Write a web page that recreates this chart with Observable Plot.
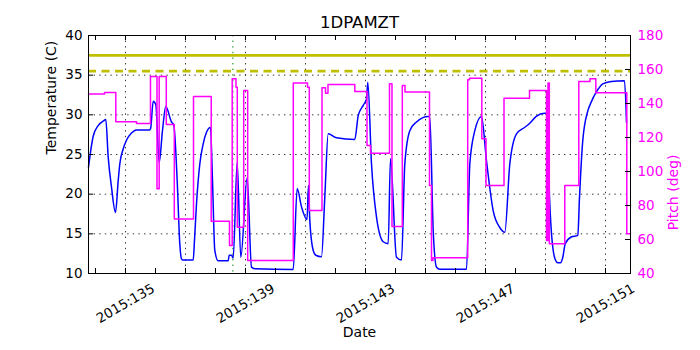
<!DOCTYPE html>
<html><head><meta charset="utf-8">
<script src="https://cdn.jsdelivr.net/npm/d3@7"></script>
<script src="https://cdn.jsdelivr.net/npm/@observablehq/plot@0.6"></script>
<style>body{margin:0;background:#fff;} #chart{width:700px;height:350px;}</style>
</head><body><div id="chart"></div>
<script>
// ---- data (day of year 2015) ----
const tempDays = [133.767,133.923,134.09,134.257,134.343,134.423,134.533,134.667,134.757,134.81,134.923,135.033,135.2,135.367,135.81,135.84,135.923,136.01,136.123,136.233,136.343,136.533,136.61,136.723,136.81,136.867,136.923,137.257,137.3,137.367,137.477,137.59,137.7,137.833,137.9,137.977,138.09,138.423,138.457,138.533,138.59,138.723,138.843,139.057,139.2,139.31,140.59,140.723,140.867,141.05,141.1,141.143,141.257,141.343,141.533,141.643,141.757,142.033,142.643,142.757,142.923,143.033,143.077,143.2,143.367,143.59,143.757,143.833,144.033,144.2,144.31,144.477,144.7,145.09,145.143,145.257,145.367,145.477,146.367,146.477,146.643,146.867,147.033,147.257,147.477,147.643,147.81,148.033,148.3,148.467,148.69,148.967,149.057,149.133,149.3,149.41,149.5,149.577,149.657,149.857,150.077,150.133,150.243,150.41,150.523,150.69,150.91,151.19,151.633,151.7];
const tempValues = [23.4,27.3,28.65,29.2,29.4,24.7,20.9,17.7,21.7,23.8,25.7,26.8,27.7,28.1,28.1,28.3,31.7,31.3,24.0,28.0,31.05,29.1,28.7,21.7,13.75,11.85,11.7,11.7,14.2,18.8,23.8,26.35,27.8,28.4,21.7,12.9,11.6,11.6,12.3,12.3,11.95,24.0,12.05,22.1,10.8,10.6,10.5,20.7,18.4,16.8,21.1,16.7,12.9,12.3,12.1,19.6,27.6,27.1,26.9,29.9,31.2,32.0,34.1,23.8,17.1,14.0,13.75,24.5,12.05,11.7,23.8,28.0,29.1,29.8,29.8,15.4,10.8,10.55,10.55,23.8,28.0,29.8,24.2,17.9,15.8,15.2,23.8,27.6,28.4,28.9,29.8,30.2,30.2,19.6,12.05,11.35,11.35,12.05,13.75,14.6,14.8,19.6,26.8,30.5,31.6,32.85,33.9,34.2,34.3,29.0];

const pitchDays = [133.767,134.3,134.677,135.367,135.833,136.05,136.123,136.36,136.627,137.267,137.857,138.467,138.557,138.683,138.727,138.94,139.073,140.593,141.067,141.127,141.55,141.667,141.75,142.643,143.05,143.167,143.8,143.883,144.227,144.317,145.133,145.2,145.25,146.407,146.467,146.877,147.017,147.617,148.467,149.033,149.083,149.127,149.643,150.11,150.483,150.677,151.71,151.833];
const pitchValues = [145.6,146.5,129.2,128.3,155.9,89.8,155.9,127.6,72.0,144.1,70.8,56.5,154.5,149.6,67.2,147.6,47.6,152.0,149.6,77.0,149.2,146.1,151.2,147.1,115.3,110.8,151.6,67.6,150.6,146.7,91.8,47.6,49.3,153.9,154.9,119.2,91.8,143.1,147.6,59.4,152.0,57.5,91.8,152.9,154.5,146.3,63.4,63.4];

const tempTicks = [10,15,20,25,30,35,40];
const tempGrid = [15,20,25,30,35];
const pitchTicks = [40,60,80,100,120,140,160,180];
const dateTicks = [135,139,143,147,151];
const dateTickLabels = ["2015:135","2015:139","2015:143","2015:147","2015:151"];
const gridDays = [135,137,139,141,143,145,147,149,151];
const dayTicks = [134,135,136,137,138,139,140,141,142,143,144,145,146,147,148,149,150,151];
const limitSolid = [37.5];
const limitDashed = [35.5];
const markerDay = [138.58];
const xDomain = [133.767, 151.833];
const yDomain = [10, 40];
const pitchDomain = [40, 180];

// ---- helpers ----
const p2t = p => yDomain[0] + (p - pitchDomain[0]) * (yDomain[1]-yDomain[0]) / (pitchDomain[1]-pitchDomain[0]);
const t2p = t => pitchDomain[0] + (t - yDomain[0]) * (pitchDomain[1]-pitchDomain[0]) / (yDomain[1]-yDomain[0]);

const W = 700, H = 350, mL = 88, mR = 70, mT = 35, mB = 77;
const pxX = (xDomain[1]-xDomain[0]) / (W - mL - mR);
const pxY = (yDomain[1]-yDomain[0]) / (H - mT - mB);
const TL = 5;

const temp = tempDays.map((d,i) => ({d, v: tempValues[i]}));
const pitch = pitchDays.map((d,i) => ({d, v: p2t(pitchValues[i])}));

const MAG = "#ff00ff", YEL = "#bfbf00";
const dot = "1.4,4.2";

const chart = Plot.plot({
  width: W, height: H,
  marginLeft: mL, marginRight: mR, marginTop: mT, marginBottom: mB,
  style: {fontFamily: "DejaVu Sans", fontSize: "13.5px", background: "white", color: "black"},
  x: {domain: xDomain, axis: null},
  y: {domain: yDomain},
  marks: [
    Plot.ruleX(gridDays, {stroke: "black", strokeWidth: 0.8, strokeDasharray: dot}),
    Plot.ruleY(tempGrid, {stroke: "black", strokeWidth: 0.8, strokeDasharray: dot}),
    Plot.ruleY(limitSolid, {stroke: YEL, strokeWidth: 2.8}),
    Plot.ruleY(limitDashed, {stroke: YEL, strokeWidth: 2.8, strokeDasharray: "8,5.5"}),
    Plot.ruleX(markerDay, {stroke: "green", strokeWidth: 1, strokeDasharray: dot}),
    Plot.line(temp, {x: "d", y: "v", stroke: "#0000ff", strokeWidth: 1.5, curve: "monotone-x"}),
    Plot.line(pitch, {x: "d", y: "v", stroke: MAG, strokeWidth: 1.5, curve: "step-after"}),
    // inward ticks
    Plot.ruleX(dayTicks, {y1: yDomain[0], y2: yDomain[0] + TL*pxY, stroke: "black"}),
    Plot.ruleX(dayTicks, {y1: yDomain[1], y2: yDomain[1] - TL*pxY, stroke: "black"}),
    Plot.ruleY(tempTicks, {x1: xDomain[0], x2: xDomain[0] + TL*pxX, stroke: "black"}),
    Plot.ruleY(pitchTicks.map(p2t), {x1: xDomain[1] - TL*pxX, x2: xDomain[1], stroke: "black"}),
    Plot.frame({stroke: "black", strokeWidth: 1}),
    // axes text
    Plot.axisY(tempTicks, {anchor: "left", tickSize: 0, tickPadding: 6, label: null, fontSize: 13.5}),
    Plot.axisY(pitchTicks.map(p2t), {anchor: "right", tickSize: 0, tickPadding: 7, label: null,
      tickFormat: t => String(Math.round(t2p(t))), fill: MAG, color: MAG, fontSize: 13.5}),
    Plot.text(dateTicks, {x: d => d, frameAnchor: "bottom", dy: 30, rotate: -30,
      text: (d,i) => dateTickLabels[i], textAnchor: "middle", lineAnchor: "middle", fontSize: 13.5, fill: "black"}),
    Plot.text(["Date"], {frameAnchor: "bottom", dy: 59, lineAnchor: "middle", fontSize: 14, fill: "black"}),
    Plot.text(["Temperature (C)"], {frameAnchor: "left", dx: -37, rotate: -90, lineAnchor: "middle", fontSize: 14, fill: "black"}),
    Plot.text(["Pitch (deg)"], {frameAnchor: "right", dx: 43, rotate: -90, lineAnchor: "middle", fontSize: 14, fill: MAG}),
    Plot.text(["1DPAMZT"], {frameAnchor: "top", dy: -13, lineAnchor: "middle", fontSize: 16.5, fill: "black"})
  ]
});
document.getElementById("chart").appendChild(chart);
</script>
</body></html>
